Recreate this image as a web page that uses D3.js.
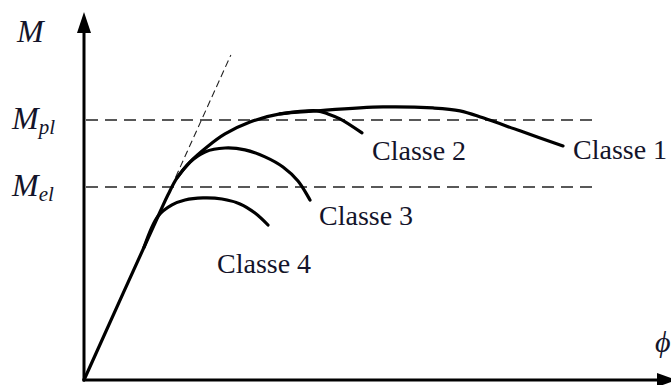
<!DOCTYPE html>
<html>
<head>
<meta charset="utf-8">
<script src="https://cdn.jsdelivr.net/npm/d3@7"></script>
<style>
  body { margin: 0; background: #fff; }
  text { font-family: "Liberation Serif", "Times New Roman", serif; fill: #14142a; }
</style>
</head>
<body>
<div id="vis"></div>
<script>
"use strict";
// moment-rotation curves, M normalised so that Mpl = 1
var classe1 = [[0, 0], [0.76, 0.646], [0.84, 0.712], [0.93, 0.777], [1.06, 0.838], [1.23, 0.896],
  [1.41, 0.946], [1.66, 0.992], [1.96, 1.023], [2.33, 1.035], [2.99, 1.050], [3.49, 1.046],
  [3.76, 1.035], [3.99, 1.008], [4.36, 0.958], [4.79, 0.900]];
var classe2 = [[1.96, 1.023], [2.33, 1.035], [2.44, 1.023], [2.56, 1.004], [2.78, 0.950]];
var classe3 = [[0.93, 0.777], [1.06, 0.838], [1.21, 0.877], [1.41, 0.892], [1.61, 0.885], [1.81, 0.858],
  [1.99, 0.819], [2.14, 0.765], [2.26, 0.692]];
var classe4 = [[0.60, 0.51], [0.74, 0.63], [0.88, 0.673], [1.01, 0.692], [1.19, 0.700], [1.38, 0.696],
  [1.56, 0.677], [1.71, 0.642], [1.84, 0.596]];
var curves = [classe1, classe2, classe3, classe4];
var classNames = ['Classe 1', 'Classe 2', 'Classe 3', 'Classe 4'];
var labelPos = [[4.89, 0.85], [2.88, 0.845], [2.35, 0.595], [1.33, 0.412]];
var Mpl = 1.0, Mel = 0.742;
var refLevels = [Mpl, Mel];
var refEnd = 5.09;
var tangent = [[0.78 * 1.175, 0.78], [1.25 * 1.175, 1.25]];

var width = 671, height = 385;
var svg = d3.select('#vis').append('svg')
    .attr('width', width)
    .attr('height', height);

var x = d3.scaleLinear().domain([0, 5.87]).range([84, 671]);
var y = d3.scaleLinear().domain([0, 1.415]).range([380, 12]);

// horizontal dashed reference lines
svg.selectAll('.ref')
    .data(refLevels)
    .enter().append('line')
    .classed('ref', true)
    .attr('x1', x(0.02))
    .attr('x2', x(refEnd))
    .attr('y1', y)
    .attr('y2', y)
    .attr('stroke', '#222')
    .attr('stroke-width', 1.6)
    .attr('stroke-dasharray', '12,7');

// elastic tangent
svg.append('line')
    .attr('x1', x(tangent[0][0])).attr('y1', y(tangent[0][1]))
    .attr('x2', x(tangent[1][0])).attr('y2', y(tangent[1][1]))
    .attr('stroke', '#222')
    .attr('stroke-width', 1.1)
    .attr('stroke-dasharray', '7,4');

var line = d3.line()
    .x(function (d) { return x(d[0]); })
    .y(function (d) { return y(d[1]); })
    .curve(d3.curveCatmullRom.alpha(0.5));

svg.selectAll('.curve')
    .data(curves)
    .enter().append('path')
    .classed('curve', true)
    .attr('d', line)
    .attr('fill', 'none')
    .attr('stroke', '#000')
    .attr('stroke-width', 3.2)
    .attr('stroke-linecap', 'round');

// axes
svg.append('line')
    .attr('x1', x(0)).attr('y1', y(0))
    .attr('x2', x(0)).attr('y2', y(1.36))
    .attr('stroke', '#000').attr('stroke-width', 3);
svg.append('line')
    .attr('x1', x(0) - 1.5).attr('y1', y(0))
    .attr('x2', x(5.76)).attr('y2', y(0))
    .attr('stroke', '#000').attr('stroke-width', 3);
svg.append('path')
    .attr('d', 'M' + x(0) + ',' + y(1.415) + 'L' + (x(0) - 7) + ',' + (y(1.415) + 21) +
      'L' + (x(0) + 7) + ',' + (y(1.415) + 21) + 'Z')
    .attr('fill', '#000');
svg.append('path')
    .attr('d', 'M' + (x(5.87) + 6) + ',' + y(0) + 'L' + (x(5.87) - 14) + ',' + (y(0) - 7) +
      'L' + (x(5.87) - 14) + ',' + (y(0) + 7) + 'Z')
    .attr('fill', '#000');

// class labels
svg.selectAll('.cls')
    .data(classNames)
    .enter().append('text')
    .classed('cls', true)
    .attr('x', function (d, i) { return x(labelPos[i][0]); })
    .attr('y', function (d, i) { return y(labelPos[i][1]); })
    .style('font-size', '28px')
    .text(function (d) { return d; });

// axis labels
svg.append('text')
    .attr('x', 17).attr('y', 42)
    .style('font-size', '32px').style('font-style', 'italic')
    .text('M');

var mlab = svg.selectAll('.mlab')
    .data([['pl', Mpl], ['el', Mel]])
    .enter().append('text')
    .classed('mlab', true)
    .attr('x', 12)
    .attr('y', function (d) { return y(d[1]) + 9; })
    .style('font-size', '32px').style('font-style', 'italic');
mlab.append('tspan').text('M');
mlab.append('tspan')
    .attr('dy', 5)
    .style('font-size', '21px')
    .text(function (d) { return d[0]; });

svg.append('text')
    .attr('x', 655).attr('y', 352)
    .style('font-size', '30px').style('font-style', 'italic')
    .text('ϕ');
</script>
</body>
</html>
